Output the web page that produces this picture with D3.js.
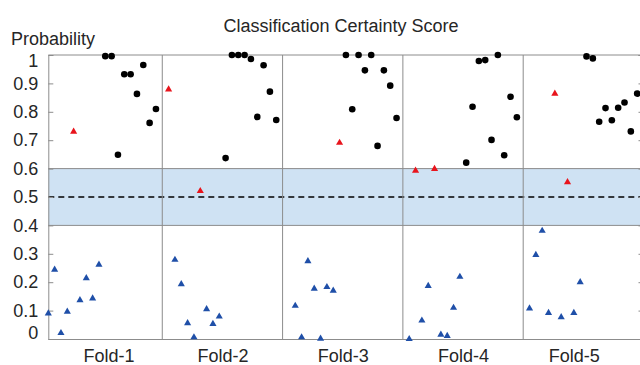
<!DOCTYPE html>
<html>
<head>
<meta charset="utf-8">
<script src="https://cdn.jsdelivr.net/npm/d3@7"></script>
<style>
  body { margin: 0; background: #fff; }
  svg { display: block; font-family: "Liberation Sans", Arial, sans-serif; }
  text { fill: #262626; }
</style>
</head>
<body>
<svg id="chart" width="640" height="365"></svg>
<script>
// one entry per slot in each fold: b = blue, r = red, k = black, null = no sample
const foldNames = ["Fold-1", "Fold-2", "Fold-3", "Fold-4", "Fold-5"];
const foldTickPos = [10.5, 28.5, 47.5, 66.5, 84];
const slotsPerFold = 19;

const foldKinds = [
  "bbbbrbbbbkkkkkkkkk",
  "rbbbbrbbbkkkkkkkkk",
  "-bbbbbbbrkkkkkkkkk",
  "brbbrbbbbkkkkkkkkk",
  "bbbbrbrbbkkkkkkkkk"
];

const fold1 = [0.090, 0.244, 0.021, 0.096, 0.730, 0.137, 0.214, 0.143, 0.262,
  0.996, 0.996, 0.649, 0.932, 0.932, 0.863, 0.965, 0.761, 0.810];
const fold2 = [0.879, 0.279, 0.193, 0.056, 0.006, 0.521, 0.105, 0.053, 0.079,
  0.637, 1.000, 1.000, 1.000, 0.986, 0.782, 0.964, 0.871, 0.771];
const fold3 = [null, 0.117, 0.006, 0.274, 0.177, 0.001, 0.183, 0.170, 0.691,
  1.000, 0.809, 1.000, 0.946, 1.000, 0.680, 0.946, 0.892, 0.778];
const fold4 = [0.000, 0.593, 0.065, 0.187, 0.599, 0.015, 0.011, 0.110, 0.219,
  0.621, 0.818, 0.979, 0.982, 0.701, 1.000, 0.647, 0.853, 0.781];
const fold5 = [0.108, 0.296, 0.381, 0.092, 0.864, 0.077, 0.552, 0.092, 0.200,
  0.995, 0.988, 0.765, 0.813, 0.770, 0.814, 0.833, 0.731, 0.864];
const foldValues = [fold1, fold2, fold3, fold4, fold5];

const yTicks = [0, 0.1, 0.2, 0.3, 0.4, 0.5, 0.6, 0.7, 0.8, 0.9, 1];
const bandLow = 0.4;
const bandHigh = 0.6;
const threshold = 0.5;

const svg = d3.select("#chart");
const gray = "#8c8c8c";
const fontSize = 18;

const x = d3.scaleLinear().domain([1, 95]).range([48.3, 643.5]);
const y = d3.scaleLinear().domain([0, 1]).range([339, 55]);

const points = [];
foldValues.forEach((vals, f) => {
  vals.forEach((v, i) => {
    if (v === null) return;
    points.push({slot: f * slotsPerFold + i + 1, value: v, kind: foldKinds[f][i]});
  });
});

// band around the decision threshold
svg.append("rect")
  .attr("x", x(1)).attr("y", y(bandHigh))
  .attr("width", x(95) - x(1)).attr("height", y(bandLow) - y(bandHigh))
  .attr("fill", "#cfe2f3");

svg.selectAll("line.band")
  .data([bandLow, bandHigh])
  .enter().append("line")
  .attr("x1", x(1)).attr("x2", x(95))
  .attr("y1", d => y(d)).attr("y2", d => y(d))
  .attr("stroke", gray).attr("stroke-width", 1);

svg.append("line")
  .attr("x1", x(1)).attr("x2", x(95))
  .attr("y1", y(threshold)).attr("y2", y(threshold))
  .attr("stroke", "#000").attr("stroke-width", 1.5)
  .attr("stroke-dasharray", "6,4");

// fold dividers
const dividers = d3.range(1, 5).map(i => i * slotsPerFold);
svg.selectAll("line.div")
  .data(dividers)
  .enter().append("line")
  .attr("x1", d => x(d)).attr("x2", d => x(d))
  .attr("y1", y(1)).attr("y2", y(0))
  .attr("stroke", gray).attr("stroke-width", 1);

// axes box
const yAxisL = d3.axisLeft(y).tickValues(yTicks).tickSize(-5).tickPadding(10)
  .tickFormat(d => d3.format("")(+d.toFixed(1)));
const gl = svg.append("g").attr("transform", `translate(${x(1)},0)`).call(yAxisL);
gl.select(".domain").attr("stroke", gray);
gl.selectAll(".tick line").attr("stroke", gray);
gl.selectAll(".tick text").attr("font-size", fontSize).attr("fill", "#262626")
  // end labels sit inside the axis span, as in the original
  .attr("y", d => d === 1 ? 6 : d === 0 ? -6 : 0);

const yAxisR = d3.axisRight(y).tickValues(yTicks).tickSize(-5).tickFormat("");
const gr = svg.append("g").attr("transform", `translate(${x(95)},0)`).call(yAxisR);
gr.select(".domain").attr("stroke", gray);
gr.selectAll(".tick line").attr("stroke", gray);

const xAxis = d3.axisBottom(x).tickValues(foldTickPos).tickSize(0).tickPadding(10)
  .tickFormat((d, i) => foldNames[i]);
const gx = svg.append("g").attr("transform", `translate(0,${y(0)})`).call(xAxis);
gx.select(".domain").attr("stroke", gray);
gx.selectAll(".tick text").attr("font-size", fontSize).attr("fill", "#262626");

svg.append("line")
  .attr("x1", x(1)).attr("x2", x(95))
  .attr("y1", y(1)).attr("y2", y(1))
  .attr("stroke", gray);

// markers
const tri = d3.symbol().type(d3.symbolTriangle).size(22);
const kindColor = {b: "#1f4fa8", r: "#e8141c"};

svg.selectAll("path.tri")
  .data(points.filter(p => p.kind !== "k"))
  .enter().append("path")
  .attr("d", tri)
  .attr("transform", d => `translate(${x(d.slot)},${y(d.value)})`)
  .attr("fill", d => kindColor[d.kind]);

svg.selectAll("circle.dot")
  .data(points.filter(p => p.kind === "k"))
  .enter().append("circle")
  .attr("cx", d => x(d.slot)).attr("cy", d => y(d.value))
  .attr("r", 3.3).attr("fill", "#000");

// titles
svg.append("text")
  .attr("x", 341).attr("y", 32)
  .attr("text-anchor", "middle").attr("font-size", fontSize)
  .text("Classification Certainty Score");

svg.append("text")
  .attr("x", 11).attr("y", 45)
  .attr("font-size", fontSize)
  .text("Probability");
</script>
</body>
</html>
